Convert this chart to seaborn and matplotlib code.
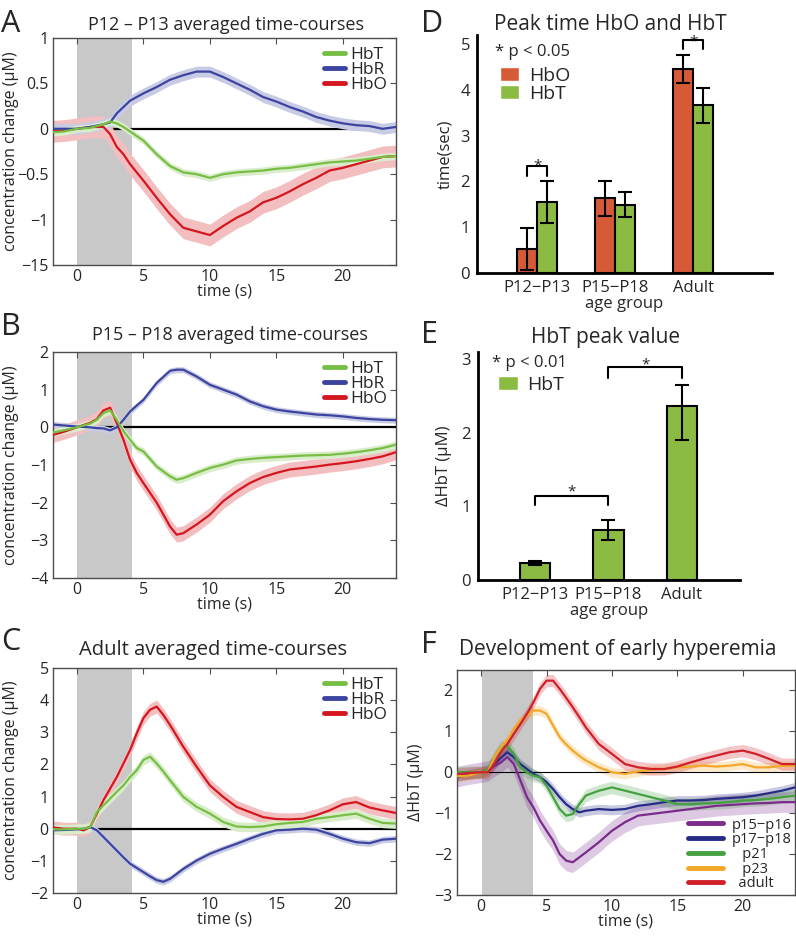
import numpy as np
import pandas as pd
import matplotlib
matplotlib.use("Agg")
import matplotlib.pyplot as plt
import matplotlib.colors as mcolors
from matplotlib.lines import Line2D
from matplotlib.patches import Patch
import seaborn as sns

sns.set_theme(style="white")
plt.rcParams['font.family'] = ['Open Sans', 'DejaVu Sans']
plt.rcParams['axes.unicode_minus'] = True

# ---------------- data ----------------
# Panel A (P12-P13)
A_t = [-2, -1, 0, 1, 2, 2.5, 3, 3.5, 4, 5, 6, 7, 8, 9, 10, 11, 12, 13, 14, 15, 16, 17, 18, 19, 20, 21, 22, 23, 24]
A_HbR = [0.0, 0.0, 0.0, 0.02, 0.05, 0.07, 0.17, 0.24, 0.31, 0.39, 0.46, 0.54, 0.59, 0.63, 0.63, 0.57, 0.5, 0.43, 0.35, 0.3, 0.24, 0.19, 0.13, 0.09, 0.06, 0.04, 0.03, 0.0, 0.02]
A_HbT = [-0.04, -0.03, 0.0, 0.01, 0.05, 0.08, 0.06, 0.02, -0.03, -0.13, -0.28, -0.41, -0.48, -0.5, -0.54, -0.5, -0.48, -0.47, -0.46, -0.44, -0.43, -0.41, -0.39, -0.37, -0.36, -0.35, -0.33, -0.31, -0.3]
A_HbO = [-0.03, -0.02, 0.0, 0.02, 0.02, -0.06, -0.2, -0.28, -0.39, -0.57, -0.76, -0.94, -1.09, -1.13, -1.17, -1.07, -0.98, -0.91, -0.81, -0.76, -0.69, -0.61, -0.54, -0.46, -0.43, -0.39, -0.35, -0.31, -0.3]
A_sem = [0.04, 0.06, 0.12]  # HbT, HbR, HbO

# Panel B (P15-P18)
B_t = [-2, -1, 0, 1, 1.5, 2, 2.5, 3, 3.5, 4, 4.5, 5, 6, 7, 7.5, 8, 9, 10, 11, 12, 13, 14, 15, 16, 17, 18, 19, 20, 21, 22, 23, 24]
B_HbR = [0.08, 0.05, 0.02, 0.0, -0.02, -0.03, -0.08, 0.0, 0.2, 0.42, 0.58, 0.73, 1.18, 1.5, 1.53, 1.53, 1.35, 1.13, 1.0, 0.87, 0.69, 0.56, 0.47, 0.42, 0.38, 0.34, 0.32, 0.29, 0.25, 0.22, 0.2, 0.19]
B_HbT = [-0.15, -0.08, 0.0, 0.1, 0.2, 0.38, 0.45, 0.2, -0.1, -0.33, -0.55, -0.64, -1.04, -1.3, -1.39, -1.35, -1.21, -1.08, -0.99, -0.88, -0.84, -0.81, -0.79, -0.77, -0.75, -0.74, -0.73, -0.7, -0.66, -0.61, -0.55, -0.46]
B_HbO = [-0.22, -0.12, 0.0, 0.12, 0.22, 0.45, 0.52, 0.11, -0.33, -0.86, -1.21, -1.48, -2.0, -2.63, -2.85, -2.81, -2.58, -2.32, -1.96, -1.7, -1.48, -1.32, -1.21, -1.12, -1.08, -1.04, -0.99, -0.95, -0.9, -0.84, -0.77, -0.66]
B_sem = [0.1, 0.08, 0.2]

# Panel C (Adult)
C_t = [-2, -1, 0, 0.5, 1, 1.5, 2, 2.5, 3, 3.5, 4, 4.5, 5, 5.5, 6, 6.5, 7, 8, 9, 10, 11, 12, 13, 14, 15, 16, 17, 18, 19, 20, 21, 22, 23, 24]
C_HbO = [0.05, 0.0, 0.0, -0.05, 0.05, 0.47, 0.89, 1.25, 1.61, 2.03, 2.45, 2.97, 3.44, 3.7, 3.8, 3.54, 3.23, 2.55, 1.93, 1.35, 0.99, 0.68, 0.52, 0.36, 0.3, 0.29, 0.31, 0.42, 0.57, 0.76, 0.83, 0.66, 0.57, 0.49]
C_HbT = [-0.02, -0.02, 0.0, 0.0, 0.05, 0.52, 0.73, 0.94, 1.15, 1.35, 1.61, 1.82, 2.14, 2.24, 2.03, 1.78, 1.51, 0.99, 0.68, 0.47, 0.21, 0.07, 0.05, 0.07, 0.14, 0.18, 0.21, 0.31, 0.36, 0.42, 0.47, 0.31, 0.18, 0.16]
C_HbR = [-0.05, -0.04, -0.02, 0.0, 0.05, -0.05, -0.26, -0.47, -0.68, -0.89, -1.09, -1.22, -1.35, -1.48, -1.6, -1.65, -1.56, -1.25, -0.99, -0.78, -0.62, -0.47, -0.31, -0.16, -0.05, -0.03, 0.0, -0.03, -0.16, -0.31, -0.42, -0.45, -0.34, -0.31]
C_sem = [0.15, 0.1, 0.2]

# Panel D (peak times)
groups = ['P12−P13', 'P15−P18', 'Adult']
D_HbO = [0.53, 1.63, 4.46]
D_HbO_err = [0.46, 0.38, 0.31]
D_HbT = [1.55, 1.49, 3.66]
D_HbT_err = [0.45, 0.27, 0.38]

# Panel E (HbT peak value)
E_HbT = [0.23, 0.68, 2.37]
E_err_low = [0.03, 0.13, 0.46]
E_err_high = [0.03, 0.13, 0.28]

# Panel F (development)
F_t = [-2, -1, 0, 0.5, 1, 1.5, 2, 2.5, 3, 3.5, 4, 4.5, 5, 5.5, 6, 6.5, 7, 7.5, 8, 9, 10, 11, 12, 13, 14, 15, 16, 17, 18, 19, 20, 21, 22, 23, 24]
F_p1516 = [-0.12, -0.05, 0.0, 0.03, 0.15, 0.24, 0.37, 0.2, -0.2, -0.61, -0.86, -1.18, -1.43, -1.67, -2.0, -2.16, -2.2, -2.08, -1.96, -1.71, -1.43, -1.22, -1.06, -1.02, -0.98, -0.94, -0.9, -0.86, -0.82, -0.8, -0.78, -0.76, -0.75, -0.73, -0.73]
F_p1718 = [-0.12, -0.05, 0.0, 0.05, 0.2, 0.35, 0.49, 0.37, 0.2, 0.08, -0.04, -0.12, -0.24, -0.41, -0.61, -0.78, -0.9, -0.98, -0.94, -0.9, -0.92, -0.9, -0.82, -0.78, -0.73, -0.69, -0.69, -0.68, -0.65, -0.63, -0.61, -0.57, -0.51, -0.45, -0.37]
F_p21 = [0.0, 0.0, 0.0, 0.05, 0.37, 0.61, 0.65, 0.45, 0.12, 0.0, -0.08, -0.12, -0.33, -0.61, -0.9, -1.06, -1.02, -0.78, -0.57, -0.45, -0.37, -0.45, -0.53, -0.61, -0.69, -0.78, -0.78, -0.76, -0.75, -0.73, -0.69, -0.68, -0.65, -0.61, -0.57]
F_p23 = [-0.1, -0.08, 0.0, 0.0, 0.37, 0.61, 0.78, 1.06, 1.27, 1.39, 1.51, 1.51, 1.43, 1.14, 0.86, 0.68, 0.53, 0.4, 0.29, 0.12, 0.0, -0.04, 0.02, 0.06, 0.08, 0.12, 0.14, 0.16, 0.14, 0.16, 0.2, 0.12, 0.12, 0.16, 0.16]
F_adult = [-0.05, -0.02, 0.0, 0.0, 0.2, 0.49, 0.69, 0.94, 1.18, 1.43, 1.71, 2.04, 2.24, 2.24, 2.04, 1.82, 1.59, 1.35, 1.1, 0.69, 0.45, 0.2, 0.12, 0.08, 0.08, 0.14, 0.24, 0.33, 0.41, 0.49, 0.53, 0.45, 0.33, 0.2, 0.2]
F_labels = ['p15−p16', 'p17−p18', '   p21', '   p23', '  adult']
F_sem = [0.25, 0.12, 0.15, 0.12, 0.15]

# ---------------- style ----------------
C_HBT = '#78be45'
C_HBR = '#3c44a0'
C_HBO = '#d4161e'
BAR_HBO = '#d65a38'
BAR_HBT = '#8cbb44'
F_COLORS = ['#7a2b8c', '#262b85', '#45a040', '#f4a82a', '#d0202a']
GRAY = '#c8c8c8'
SPINE = '#4d4d4d'

TICK_FS = 11.5
LAB_FS = 11.5
LETTER_FS = 22
LEG_FS = 12.5

W, H = 796, 936
fig = plt.figure(figsize=(W / 100, H / 100), dpi=100)


def ax_px(l, t, r, b):
    return fig.add_axes([l / W, 1 - b / H, (r - l) / W, (b - t) / H])


def light(c, a=0.28):
    r, g, b = mcolors.to_rgb(c)
    return (1 - a + a * r, 1 - a + a * g, 1 - a + a * b)


def box_axes(ax):
    for s in ax.spines.values():
        s.set_color(SPINE)
        s.set_linewidth(1.0)
        s.set_visible(True)
    ax.tick_params(direction='in', length=4, width=0.8, color=SPINE,
                   top=True, right=True, labelsize=TICK_FS, pad=3)


def timecourse(ax, t, series, colors, sems, labels, ylim, yticks, yticklabels):
    ax.axvspan(0, 4.15, color=GRAY, lw=0, zorder=0)
    ax.axhline(0, color='black', lw=1.6, zorder=1)
    for y, c, s in zip(series, colors, sems):
        y = np.asarray(y, dtype=float)
        ax.fill_between(t, y - s, y + s, color=light(c), lw=0, zorder=2)
        sns.lineplot(x=t, y=y, ax=ax, color=c, lw=1.6, zorder=3, legend=False)
    ax.set_xlim(-1.8, 24)
    ax.set_ylim(*ylim)
    ax.set_xticks([0, 5, 10, 15, 20])
    ax.set_yticks(yticks)
    ax.set_yticklabels(yticklabels)
    box_axes(ax)
    ax.set_xlabel('time (s)', fontsize=LAB_FS, labelpad=-1)
    ax.set_ylabel('concentration change (μM)', fontsize=LAB_FS)
    ax.yaxis.set_label_coords(-0.1, 0.5)
    handles = [Line2D([], [], color=c, lw=3.5) for c in colors]
    order = [2, 1, 0]
    ax.legend([handles[i] for i in order], [labels[i] for i in order],
              loc='upper right', frameon=False, fontsize=LEG_FS,
              handlelength=1.2, handletextpad=0.3, labelspacing=-0.05,
              borderaxespad=0.3, borderpad=0.2)


# ---------- A ----------
axA = ax_px(53, 38, 396, 265)
timecourse(axA, A_t, [A_HbO, A_HbR, A_HbT], [C_HBO, C_HBR, C_HBT],
           [A_sem[2], A_sem[1], A_sem[0]], ['HbO', 'HbR', 'HbT'],
           (-1.5, 1), [-1.5, -1, -0.5, 0, 0.5, 1], ['−15', '−1', '−0.5', '0', '0.5', '1'])

# ---------- B ----------
axB = ax_px(53, 352, 396, 578)
timecourse(axB, B_t, [B_HbO, B_HbR, B_HbT], [C_HBO, C_HBR, C_HBT],
           [B_sem[2], B_sem[1], B_sem[0]], ['HbO', 'HbR', 'HbT'],
           (-4, 2), [-4, -3, -2, -1, 0, 1, 2], ['−4', '−3', '−2', '−1', '0', '1', '2'])

# ---------- C ----------
axC = ax_px(53, 668, 396, 893)
timecourse(axC, C_t, [C_HbO, C_HbR, C_HbT], [C_HBO, C_HBR, C_HBT],
           [C_sem[2], C_sem[1], C_sem[0]], ['HbO', 'HbR', 'HbT'],
           (-2, 5), [-2, -1, 0, 1, 2, 3, 4, 5], ['−2', '−1', '0', '1', '2', '3', '4', '5'])


def bracket(ax, x0, x1, ytop, ybot, off=-2.0):
    ax.plot([x0, x0, x1, x1], [ybot, ytop, ytop, ybot], color='black', lw=1.5,
            clip_on=False, zorder=6)
    ax.annotate('*', xy=((x0 + x1) / 2, ytop), xytext=(0, off),
                textcoords='offset points', ha='center', va='baseline',
                fontsize=11, annotation_clip=False)


def bar_axes(ax, ylabel, xlab_coord):
    sns.despine(ax=ax)
    for s in ['left', 'bottom']:
        ax.spines[s].set_color('black')
        ax.spines[s].set_linewidth(2)
    ax.tick_params(length=0, labelsize=TICK_FS + 0.5, pad=5)
    ax.set_xlabel('age group', fontsize=LAB_FS + 0.5, labelpad=0)
    ax.set_ylabel(ylabel, fontsize=LAB_FS + 0.5)
    ax.yaxis.set_label_coords(xlab_coord, 0.5)


# ---------- D ----------
axD = ax_px(477, 35, 772, 273)
dfD = pd.DataFrame({'group': groups * 2,
                    'signal': ['HbO'] * 3 + ['HbT'] * 3,
                    'time': D_HbO + D_HbT})
sns.barplot(data=dfD, x='group', y='time', hue='signal',
            palette=[BAR_HBO, BAR_HBT], width=0.52, saturation=1,
            edgecolor='black', linewidth=1.5, errorbar=None, legend=False, ax=axD)
bars = sorted(axD.patches, key=lambda p: p.get_x())
# sorted by x: P12 HbO, P12 HbT, P15 HbO, P15 HbT, Adult HbO, Adult HbT
errsD = [D_HbO_err[0], D_HbT_err[0], D_HbO_err[1], D_HbT_err[1], D_HbO_err[2], D_HbT_err[2]]
centersD = []
for p, e in zip(bars, errsD):
    cx = p.get_x() + p.get_width() / 2
    centersD.append(cx)
    axD.errorbar(cx, p.get_height(), yerr=e, color='black', lw=1.5,
                 capsize=5, capthick=1.5, zorder=5)
axD.set_xlim(-0.77, 3.01)
axD.set_ylim(0, 5.2)
axD.set_yticks([0, 1, 2, 3, 4, 5])
bar_axes(axD, 'time(sec)', -0.08)
bracket(axD, centersD[0], centersD[1], 2.33, 2.12, off=-2.5)
bracket(axD, centersD[4], centersD[5], 5.08, 4.9, off=-3.5)
axD.text(0.061, 0.929, '* p < 0.05', transform=axD.transAxes, fontsize=12,
         ha='left', va='center')
axD.legend([Patch(facecolor=BAR_HBO), Patch(facecolor=BAR_HBT)], ['HbO', 'HbT'],
           loc='center left', bbox_to_anchor=(0.045, 0.792), frameon=False,
           fontsize=14, handlelength=1.0, handleheight=0.7,
           handletextpad=0.5, labelspacing=0.0, borderpad=0.0)

# ---------- E ----------
axE = ax_px(478, 352, 740, 580)
dfE = pd.DataFrame({'group': groups, 'peak': E_HbT})
sns.barplot(data=dfE, x='group', y='peak', color=BAR_HBT, width=0.42, saturation=1,
            edgecolor='black', linewidth=1.5, errorbar=None, ax=axE)
barsE = sorted(axE.patches, key=lambda p: p.get_x())
centersE = []
for p, lo, hi in zip(barsE, E_err_low, E_err_high):
    cx = p.get_x() + p.get_width() / 2
    centersE.append(cx)
    axE.errorbar(cx, p.get_height(), yerr=[[lo], [hi]], color='black', lw=1.5,
                 capsize=5, capthick=1.5, zorder=5)
axE.set_xlim(-0.776, 2.79)
axE.set_ylim(0, 3.1)
axE.set_yticks([0, 1, 2, 3])
bar_axes(axE, 'ΔHbT (μM)', -0.101)
bracket(axE, centersE[0], centersE[1], 1.14, 1.02, off=0.5)
bracket(axE, centersE[1], centersE[2], 2.89, 2.75, off=-0.5)
axE.text(0.053, 0.952, '* p < 0.01', transform=axE.transAxes, fontsize=12,
         ha='left', va='center')
axE.legend([Patch(facecolor=BAR_HBT)], ['HbT'],
           loc='center left', bbox_to_anchor=(0.04, 0.855), frameon=False,
           fontsize=14, handlelength=1.0, handleheight=0.7,
           handletextpad=0.5, borderpad=0.0)

# ---------- F ----------
axF = ax_px(457, 670, 795, 895)
axF.axvspan(0.1, 4.0, color=GRAY, lw=0, zorder=0)
F_series = [F_p1516, F_p1718, F_p21, F_p23, F_adult]
for y, c, s in zip(F_series, F_COLORS, F_sem):
    y = np.asarray(y, dtype=float)
    axF.fill_between(F_t, y - s, y + s, color=c, alpha=0.25, lw=0, zorder=1)
axF.axhline(0, color='black', lw=0.8, zorder=2)
for y, c in zip(F_series, F_COLORS):
    sns.lineplot(x=F_t, y=y, ax=axF, color=c, lw=1.6, zorder=3, legend=False)
axF.set_xlim(-1.85, 24)
axF.set_ylim(-3, 2.5)
axF.set_xticks([0, 5, 10, 15, 20])
axF.set_yticks([-3, -2, -1, 0, 1, 2])
axF.set_yticklabels(['−3', '−2', '−1', '0', '1', '2'])
box_axes(axF)
axF.set_xlabel('time (s)', fontsize=LAB_FS, labelpad=-1)
axF.set_ylabel('ΔHbT (μM)', fontsize=LAB_FS)
axF.yaxis.set_label_coords(-0.099, 0.5)
axF.legend([Line2D([], [], color=c, lw=3.5) for c in F_COLORS], F_labels,
           loc='lower right', frameon=False, fontsize=10.5,
           handlelength=2.4, handletextpad=0.6, labelspacing=-0.02,
           borderaxespad=0.15, borderpad=0.1)

# ---------- titles & letters ----------
def title(x, y, s, fs=15):
    fig.text(x / W, 1 - y / H, s, ha='center', va='baseline', fontsize=fs)


def letter(x, y, s):
    fig.text(x / W, 1 - y / H, s, ha='left', va='baseline', fontsize=LETTER_FS)


title(226, 30, 'P12 – P13 averaged time-courses', 13)
title(230, 340, 'P15 – P18 averaged time-courses', 13)
title(213, 655, 'Adult averaged time-courses', 14.5)
title(610, 30, 'Peak time HbO and HbT')
title(606, 343, 'HbT peak value')
title(618, 655, 'Development of early hyperemia')

letter(1, 32, 'A')
letter(1, 335, 'B')
letter(1, 650, 'C')
letter(421, 32, 'D')
letter(421, 343, 'E')
letter(421, 653, 'F')

fig.savefig('out.png', dpi=100)
